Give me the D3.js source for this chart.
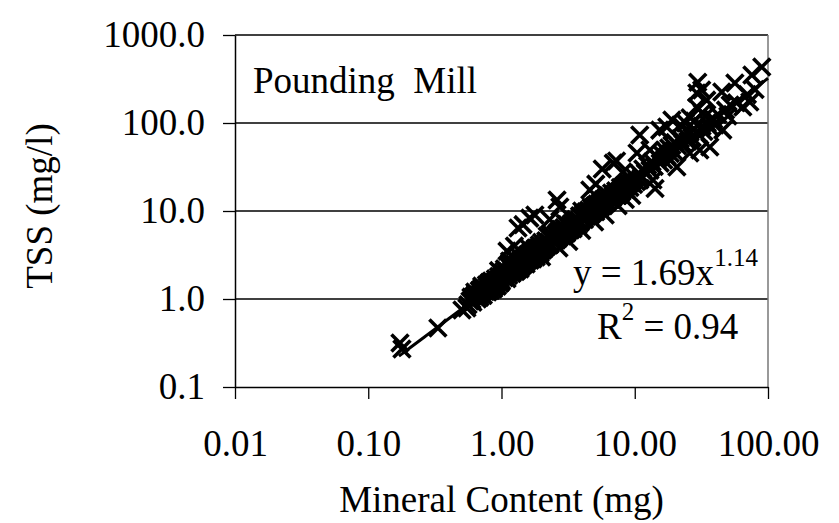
<!DOCTYPE html>
<html>
<head>
<meta charset="utf-8">
<script src="https://cdn.jsdelivr.net/npm/d3@7/dist/d3.min.js"></script>
<style>
  html, body { margin: 0; padding: 0; background: #fff; }
  svg text { font-family: "Liberation Serif", "Times New Roman", serif; fill: #000; }
</style>
</head>
<body>
<svg id="chart" width="839" height="523"></svg>
<script>
// Tick values and labels
const xTicks = [0.01, 0.1, 1, 10, 100];
const yTicks = [0.1, 1, 10, 100, 1000];
const gridValues = [1, 10, 100];

// Power-law fit: TSS = a * mineral^b
const fitA = 1.69;
const fitB = 1.14;
const fitR2 = 0.94;
const fitRange = [0.17, 100];

// Samples: mineral content (mg) and TSS (mg/l)
const mineral = [
  0.173, 0.179, 0.333, 0.505, 0.55,
  0.56, 0.58, 0.6, 0.62, 0.63, 0.65, 0.66, 0.68, 0.7, 0.7, 0.72, 0.73,
  0.75, 0.76, 0.78, 0.8, 0.8, 0.82, 0.84, 0.85, 0.87, 0.88, 0.9, 0.9, 0.92, 0.94, 0.95, 0.97, 0.98, 1.0, 1.0,
  1.02, 1.05, 1.05, 1.08, 1.1, 1.1, 1.12, 1.15, 1.15, 1.18, 1.2, 1.2, 1.22, 1.25, 1.25, 1.28, 1.3, 1.3, 1.33, 1.35, 1.38, 1.4, 1.4, 1.43, 1.45, 1.48, 1.5, 1.5,
  1.1, 1.25, 1.33, 1.45, 1.63, 1.78,
  1.52, 1.55, 1.58, 1.6, 1.62, 1.65, 1.68, 1.7, 1.72, 1.75, 1.78, 1.8, 1.82, 1.85, 1.88, 1.9, 1.92, 1.95, 2.0, 2.0, 2.05, 2.1, 2.12, 2.15, 2.2, 2.25, 2.3, 2.32, 2.38, 2.4, 2.45, 2.5,
  2.55, 2.6, 2.65, 2.7, 2.75, 2.8, 2.85, 2.9, 2.95, 3.0, 3.05, 3.1, 3.15, 3.2, 3.3, 3.35, 3.4, 3.5, 3.55, 3.6, 3.7, 3.8, 3.85, 3.9, 4.0,
  2.61, 2.74, 2.3, 2.7, 3.2, 2.0,
  4.1, 4.2, 4.3, 4.4, 4.5, 4.6, 4.7, 4.8, 4.9, 5.0, 5.1, 5.2, 5.3, 5.5, 5.6, 5.8, 5.9, 6.0, 6.2, 6.3, 6.5, 6.7, 6.8, 7.0,
  4.6, 5.1, 5.7, 6.9, 7.3, 4.0, 5.0, 6.0, 7.5, 8.5, 9.5,
  7.2, 7.5, 7.8, 8.0, 8.3, 8.6, 8.9, 9.2, 9.5, 9.8, 10.0, 10.3,
  8.15, 10.4, 10.9, 10.9,
  10.8, 11.2, 11.5, 12.0, 12.5, 13.0, 13.0, 13.5, 13.7, 14.0, 14.2, 15.0, 15.4, 15.5, 16.0, 16.5, 17.0, 17.4, 17.5, 18.0, 18.5, 19.0, 19.0, 19.5, 20.0, 20.7,
  21, 22, 22, 23, 24, 24, 25, 25.9, 26, 26, 27, 28, 28, 29.2, 29.2, 29.7, 30, 30.8, 31.8, 32, 32, 33, 34, 34.7, 35, 36.6, 37, 39, 40, 42, 45, 45.8, 48, 50, 52, 56.4, 58, 64.7, 70, 73, 75.7, 80, 89.8,
  0.59, 0.61, 0.64, 0.67, 0.69, 0.71, 0.74, 0.77, 0.79, 0.81, 0.83, 0.86, 0.89, 0.91, 0.93, 0.96, 0.99,
  1.03, 1.07, 1.13, 1.17, 1.21, 1.27, 1.32, 1.37, 1.42, 1.47, 1.53, 1.57, 1.64, 1.69, 1.74, 1.8, 1.86, 1.93, 1.98,
  2.08, 2.18, 2.28, 2.36, 2.48, 2.58, 2.68, 2.78, 2.88, 2.98, 3.08, 3.25, 3.45, 3.65, 3.75, 3.95,
  4.15, 4.35, 4.55, 4.75, 4.95, 5.25, 5.45, 5.75, 6.1, 6.4, 6.9, 7.3, 7.7, 8.2, 8.8, 9.4,
  0.95, 1.15, 1.6, 2.2, 3.0, 4.0
];
const tss = [
  0.316, 0.27, 0.468, 0.75, 0.79,
  0.86, 0.95, 0.98, 1.08, 1.2, 1.1, 1.0, 1.25, 1.15, 1.3, 1.2, 1.1,
  1.3, 1.22, 1.4, 1.3, 1.5, 1.35, 1.6, 1.42, 1.3, 1.55, 1.7, 1.45, 1.55, 1.62, 1.8, 1.5, 1.7, 1.85, 1.6,
  2.0, 1.75, 2.2, 1.9, 2.05, 1.7, 2.4, 2.0, 2.6, 2.2, 1.95, 2.35, 2.1, 2.5, 2.2, 2.05, 2.4, 2.7, 2.3, 2.55, 2.2, 2.6, 2.9, 2.45, 2.7, 2.5, 2.8, 3.1,
  3.5, 4.0, 6.4, 7.0, 8.3, 9.0,
  2.6, 3.0, 2.75, 3.2, 2.9, 3.4, 3.0, 3.3, 2.85, 3.6, 3.2, 3.5, 3.0, 3.8, 3.4, 3.6, 4.1, 3.3, 3.9, 4.4, 3.6, 4.2, 3.8, 4.6, 4.0, 4.4, 5.0, 4.2, 4.7, 5.3, 4.5, 4.9,
  5.4, 4.7, 5.8, 5.1, 5.5, 6.2, 5.2, 5.7, 6.5, 5.5, 6.0, 7.0, 5.9, 6.5, 6.1, 7.2, 6.6, 7.5, 6.8, 8.0, 7.1, 7.9, 8.8, 7.4, 8.4,
  13.3, 11.1, 8.0, 3.8, 4.5, 3.0,
  9.2, 8.0, 9.8, 8.7, 10.2, 9.0, 11.0, 9.6, 10.5, 11.5, 9.8, 12.0, 10.8, 12.5, 11.2, 13.5, 12.0, 14.0, 12.5, 15.0, 13.5, 16.0, 14.0, 15.5,
  17.3, 20.2, 30.0, 35.0, 37.0, 6.0, 7.5, 9.0, 11.5, 13.5, 15.0,
  17.0, 15.0, 18.5, 16.5, 19.5, 17.5, 21.0, 18.5, 22.5, 20.0, 24.0, 21.5,
  27.7, 45.6, 73.0, 22.5,
  26.5, 24.0, 30.0, 27.0, 33.0, 29.0, 49.3, 36.0, 22.5, 32.0, 18.0, 40.0, 83.0, 35.0, 44.0, 38.0, 48.0, 90.0, 42.0, 52.0, 45.0, 108, 56.0, 48.0, 60.0, 31.6,
  55, 66, 95, 58, 72, 100, 62, 45.6, 78, 115, 68, 85, 105, 152, 219, 290, 75, 49.3, 237, 92, 130, 80, 120, 182, 100, 53.4, 88, 110, 95, 125, 225, 83, 140, 120, 160, 285, 170, 152, 210, 173, 351, 240, 433,
  1.05, 0.92, 1.15, 1.12, 1.05, 1.4, 1.25, 1.45, 1.2, 1.55, 1.25, 1.5, 1.38, 1.62, 1.4, 1.7, 1.55,
  1.8, 2.1, 1.85, 2.3, 2.0, 2.4, 2.15, 2.7, 2.35, 2.9, 2.5, 3.2, 2.75, 3.5, 3.0, 3.8, 3.2, 3.9, 3.5,
  3.9, 4.5, 4.1, 5.0, 4.6, 5.5, 4.9, 5.9, 5.4, 6.2, 5.6, 6.8, 6.3, 7.6, 6.9, 8.6,
  8.5, 9.3, 9.5, 10.0, 11.2, 11.0, 11.8, 12.8, 13.2, 14.5, 15.0, 16.2, 17.0, 18.0, 19.5, 21.0,
  2.1, 2.7, 3.8, 5.2, 7.2, 10.0
];
const samples = mineral.map((m, i) => ({ m, t: tss[i] }));

const svg = d3.select("#chart");
const plot = { left: 235, right: 768, top: 35, bottom: 387 };
const fontSize = 37;

const x = d3.scaleLog().domain([0.01, 100]).range([plot.left, plot.right]);
const y = d3.scaleLog().domain([0.1, 1000]).range([plot.bottom, plot.top]);

// Horizontal gridlines
svg.append("g").selectAll("line").data(gridValues).join("line")
  .attr("x1", plot.left).attr("x2", plot.right)
  .attr("y1", d => y(d)).attr("y2", d => y(d))
  .attr("stroke", "#000").attr("stroke-width", 1.3);

// Plot area border (top and right)
svg.append("line")
  .attr("x1", plot.left).attr("x2", plot.right)
  .attr("y1", plot.top).attr("y2", plot.top)
  .attr("stroke", "#000").attr("stroke-width", 1.3);
svg.append("line")
  .attr("x1", plot.right).attr("x2", plot.right)
  .attr("y1", plot.top).attr("y2", plot.bottom)
  .attr("stroke", "#777").attr("stroke-width", 1.5);

// Axes
const xAxis = d3.axisBottom(x).tickValues(xTicks).tickFormat(d3.format(".2f"))
  .tickSizeInner(12).tickSizeOuter(0);
const yAxis = d3.axisLeft(y).tickValues(yTicks).tickFormat(d3.format(".1f"))
  .tickSizeInner(12).tickSizeOuter(0);

const gx = svg.append("g").attr("transform", `translate(0,${plot.bottom})`).call(xAxis);
const gy = svg.append("g").attr("transform", `translate(${plot.left},0)`).call(yAxis);

[gx, gy].forEach(g => {
  g.selectAll("path.domain").attr("stroke", "#000").attr("stroke-width", 1.5);
  g.selectAll(".tick line").attr("stroke", "#000").attr("stroke-width", 1.3);
  g.selectAll(".tick text")
    .style("font-family", '"Liberation Serif", "Times New Roman", serif')
    .style("font-size", fontSize + "px").attr("fill", "#000");
});
gx.selectAll(".tick text").attr("y", 69).attr("dy", null);
gy.selectAll(".tick text").attr("x", -30).attr("dy", "0.32em");

// Axis titles
svg.append("text")
  .attr("x", (plot.left + plot.right) / 2).attr("y", 512)
  .attr("text-anchor", "middle").style("font-size", fontSize + "px")
  .text("Mineral Content (mg)");
svg.append("text")
  .attr("transform", "translate(52,206) rotate(-90)")
  .attr("text-anchor", "middle").style("font-size", fontSize + "px")
  .text("TSS (mg/l)");

// Site name
svg.append("text")
  .attr("x", 253).attr("y", 93)
  .style("font-size", fontSize + "px")
  .style("white-space", "pre")
  .attr("xml:space", "preserve")
  .text("Pounding  Mill");

// Markers
const half = 8.5;
svg.append("g").selectAll("path").data(samples).join("path")
  .attr("transform", d => `translate(${x(d.m)},${y(d.t)})`)
  .attr("d", `M${-half},${-half}L${half},${half}M${-half},${half}L${half},${-half}`)
  .attr("stroke", "#000").attr("stroke-width", 3.6).attr("fill", "none");

// Fitted power curve
const fitPts = d3.range(0, 101).map(i => {
  const lm = Math.log10(fitRange[0]) + (Math.log10(fitRange[1]) - Math.log10(fitRange[0])) * i / 100;
  const m = Math.pow(10, lm);
  return [m, fitA * Math.pow(m, fitB)];
});
svg.append("path")
  .attr("d", d3.line().x(d => x(d[0])).y(d => y(d[1]))(fitPts))
  .attr("fill", "none").attr("stroke", "#000").attr("stroke-width", 3);

// Fit equation and R²
const eq = svg.append("text").attr("x", 573).attr("y", 285).style("font-size", fontSize + "px");
eq.append("tspan").text(`y = ${fitA.toFixed(2)}x`);
eq.append("tspan").attr("dy", -19).style("font-size", "25px").text(fitB.toFixed(2));

const r2 = svg.append("text").attr("x", 597).attr("y", 339).style("font-size", fontSize + "px");
r2.append("tspan").text("R");
r2.append("tspan").attr("dy", -19).style("font-size", "25px").text("2");
r2.append("tspan").attr("dy", 19).text(` = ${fitR2.toFixed(2)}`);
</script>
</body>
</html>
